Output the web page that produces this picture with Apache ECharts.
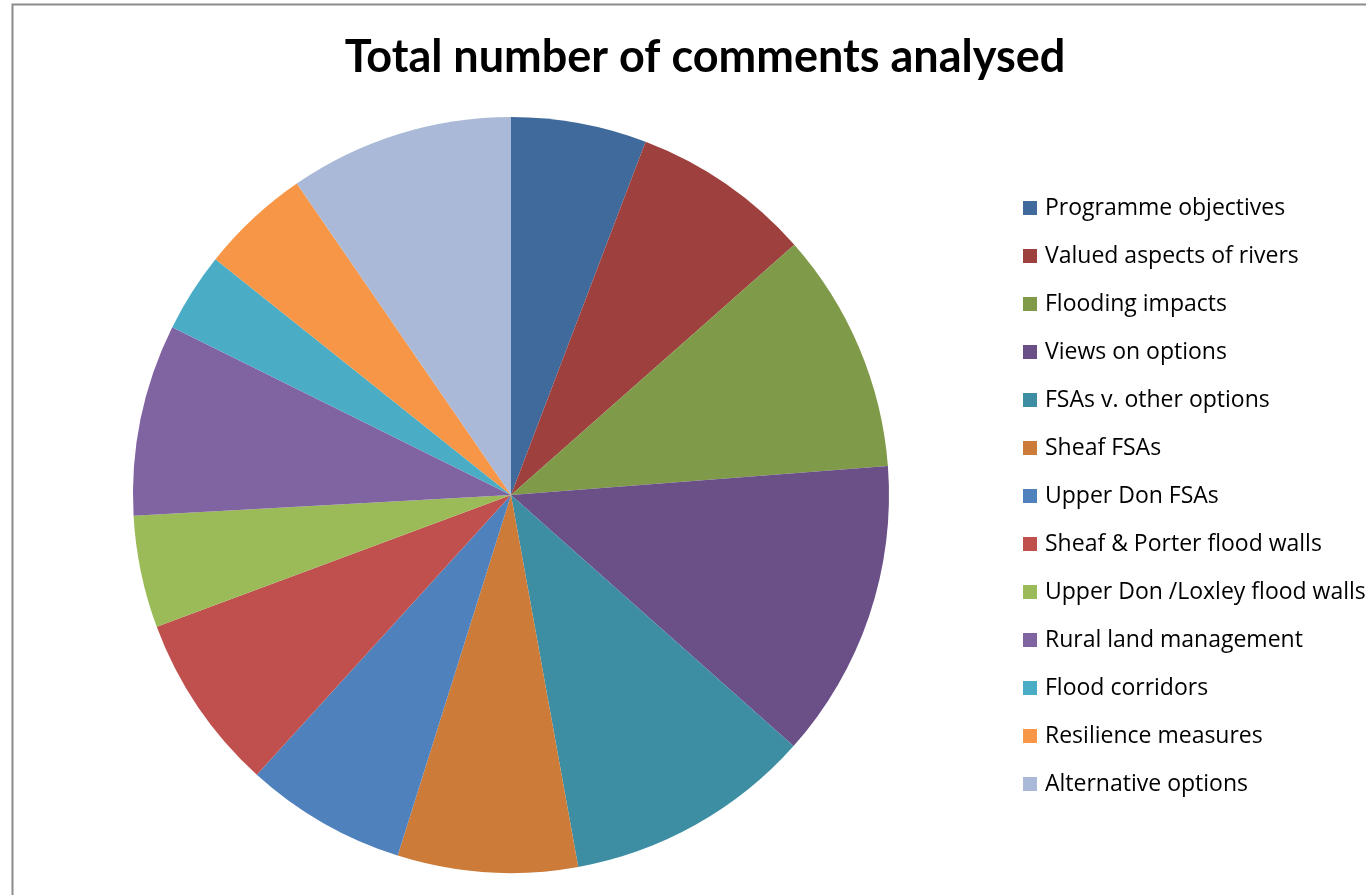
<!DOCTYPE html>
<html>
<head>
<meta charset="utf-8">
<script src="https://cdn.jsdelivr.net/npm/echarts@6/dist/echarts.min.js"></script>
<style>html,body{margin:0;padding:0;background:#fff;}#c{width:1366px;height:895px;}</style>
</head>
<body>
<div id="c"></div>
<script>
var categories = ["Programme objectives","Valued aspects of rivers","Flooding impacts","Views on options","FSAs v. other options","Sheaf FSAs","Upper Don FSAs","Sheaf & Porter flood walls","Upper Don /Loxley flood walls","Rural land management","Flood corridors","Resilience measures","Alternative options"];
var values = [58, 77, 103, 128, 106, 77, 69, 76, 48, 82, 34, 47, 96];
var colors = ["#3F6A9B","#9D403E","#7F9A49","#6A5087","#3D8DA3","#CC7B38","#4F81BD","#C0504D","#9BBB59","#8064A2","#4BACC6","#F79646","#AAB9D7"];

var chart = echarts.init(document.getElementById('c'));
chart.setOption({
  animation: false,
  backgroundColor: '#fff',
  color: colors,
  title: {
    text: 'Total number of comments analysed',
    left: 700, top: 30, textAlign: 'center',
    textStyle: {fontFamily: 'Lato', fontWeight: 'bold', fontSize: 45, color: '#000'}
  },
  graphic: [{
    type: 'rect', silent: true, z: -1,
    shape: {x: 12.5, y: 4.5, width: 1500, height: 1000},
    style: {fill: 'none', stroke: '#8c8c8c', lineWidth: 2}
  }],
  legend: {
    orient: 'vertical', left: 1023, top: 195, padding: 0,
    itemWidth: 14, itemHeight: 14, itemGap: 22,
    icon: 'rect',
    textStyle: {fontFamily: 'Open Sans', fontSize: 23, color: '#000', lineHeight: 26, padding: [0,0,0,3]},
    data: categories
  },
  series: [{
    type: 'pie',
    center: [511, 495], radius: 378,
    startAngle: 90, clockwise: true,
    label: {show: false}, labelLine: {show: false},
    itemStyle: {borderWidth: 0},
    emphasis: {disabled: true},
    data: categories.map(function(n, i){ return {name: n, value: values[i]}; })
  }]
});
</script>
</body>
</html>
